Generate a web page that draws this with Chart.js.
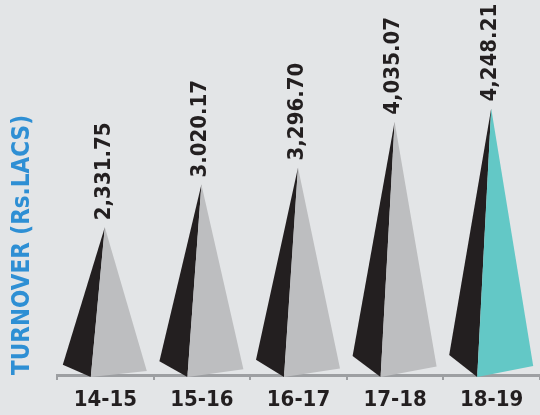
<!DOCTYPE html>
<html>
<head>
<meta charset="utf-8">
<script src="https://cdn.jsdelivr.net/npm/chart.js@4.4.1/dist/chart.umd.min.js"></script>
<style>
  html, body { margin: 0; padding: 0; background: #e3e5e7; }
  #wrap { width: 540px; height: 415px; }
</style>
</head>
<body>
<div id="wrap"><canvas id="turnover-chart"></canvas></div>
<script>
const years = ['14-15', '15-16', '16-17', '17-18', '18-19']
const turnover = [2331.75, 3020.17, 3296.70, 4035.07, 4248.21]
const valueLabels = ['2,331.75', '3.020.17', '3,296.70', '4,035.07', '4,248.21']

const dark = '#231f20'
const grey = '#bdbec0'
const teal = '#63c8c6'
const axisGrey = '#9d9fa2'

// draws each bar as a two-faced pyramid sitting on the axis
const pyramids = {
  id: 'pyramids',
  afterDatasetsDraw(chart) {
    const ctx = chart.ctx
    const meta = chart.getDatasetMeta(0)
    const zero = chart.scales.y.getPixelForValue(0)
    const front = chart.chartArea.bottom + 2
    meta.data.forEach((bar, i) => {
      const h = zero - bar.y
      const fx = bar.x - 14.5
      const ax = fx + 14
      ctx.save()
      ctx.beginPath()
      ctx.moveTo(ax, bar.y)
      ctx.lineTo(fx - 28, front - h * 0.084)
      ctx.lineTo(fx, front)
      ctx.closePath()
      ctx.fillStyle = dark
      ctx.fill()
      ctx.beginPath()
      ctx.moveTo(ax, bar.y)
      ctx.lineTo(fx, front)
      ctx.lineTo(fx + 56, front - h * 0.042)
      ctx.closePath()
      ctx.fillStyle = i === meta.data.length - 1 ? teal : grey
      ctx.fill()

      ctx.translate(ax - 1, bar.y - 7)
      ctx.rotate(-Math.PI / 2)
      ctx.font = 'bold 22px "DejaVu Sans Condensed", "DejaVu Sans"'
      ctx.fillStyle = dark
      ctx.textAlign = 'left'
      ctx.textBaseline = 'middle'
      ctx.fillText(valueLabels[i], 0, 0)
      ctx.restore()
    })
  }
}

const ctx = document.getElementById('turnover-chart').getContext('2d')
const chart = new Chart(ctx, {
  type: 'bar',
  data: {
    labels: years,
    datasets: [
      {
        label: 'Turnover',
        data: turnover,
        backgroundColor: 'rgba(0,0,0,0)',
        borderWidth: 0
      }
    ]
  },
  options: {
    responsive: true,
    maintainAspectRatio: false,
    animation: false,
    layout: { padding: 0 },
    plugins: {
      legend: { display: false },
      tooltip: { enabled: false }
    },
    scales: {
      x: {
        afterFit: s => { s.height = 40 },
        grid: {
          display: true,
          drawOnChartArea: false,
          tickLength: 5,
          color: axisGrey,
          lineWidth: 2
        },
        border: { display: true, color: axisGrey, width: 3 },
        ticks: {
          color: dark,
          padding: 7,
          font: { family: '"DejaVu Sans Condensed", "DejaVu Sans"', size: 22, weight: 'bold' }
        }
      },
      y: {
        min: -55,
        max: 6000,
        afterFit: s => { s.width = 57 },
        grid: { display: false },
        border: { display: false },
        ticks: { display: false },
        title: {
          display: true,
          text: 'TURNOVER (Rs.LACS)',
          align: 'start',
          color: '#2e8fd4',
          padding: { top: 8, bottom: 0 },
          font: { family: '"DejaVu Sans Condensed", "DejaVu Sans"', size: 24, weight: 'bold' }
        }
      }
    }
  },
  plugins: [pyramids]
}); // closes chart = new Chart()
</script>
</body>
</html>
